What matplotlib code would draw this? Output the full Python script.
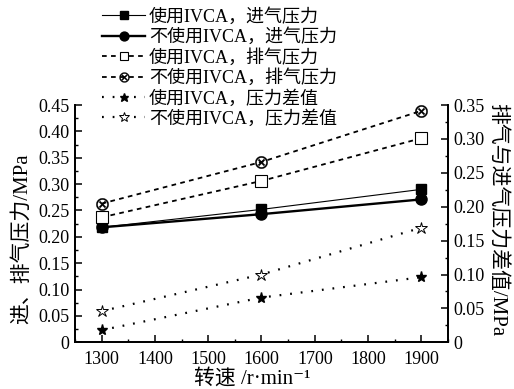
import matplotlib
matplotlib.use("Agg")
import matplotlib.pyplot as plt

speed = [1300, 1600, 1900]
ivca_intake = [0.218, 0.252, 0.290]
noivca_intake = [0.218, 0.243, 0.271]
ivca_exhaust = [0.237, 0.306, 0.387]
noivca_exhaust = [0.263, 0.342, 0.439]
ivca_diff = [0.018, 0.066, 0.096]
noivca_diff = [0.046, 0.100, 0.169]

labels = ["使用IVCA，进气压力", "不使用IVCA，进气压力", "使用IVCA，排气压力",
          "不使用IVCA，排气压力", "使用IVCA，压力差值", "不使用IVCA，压力差值"]
x_ticks = [1300, 1400, 1500, 1600, 1700, 1800, 1900]
left_ticks = [0, 0.05, 0.10, 0.15, 0.20, 0.25, 0.30, 0.35, 0.40, 0.45]
right_ticks = [0, 0.05, 0.10, 0.15, 0.20, 0.25, 0.30, 0.35]

FAM = ["Liberation Serif", "Noto Sans CJK SC", "DejaVu Serif"]
plt.rcParams["font.family"] = FAM
plt.rcParams["font.size"] = 13

fig = plt.figure(figsize=(5.14, 3.89), dpi=100)
ax = fig.add_axes([75/514, 1-342.3/389, 373/514, (342.3-105)/389])
ax2 = ax.twinx()

dash = (0, (2.6, 2.4))
dot = (0, (0.8, 4.0))
h1, = ax.plot(speed, ivca_intake, '-', color='black', lw=0.8, marker='s', ms=7, label=labels[0])
h2, = ax.plot(speed, noivca_intake, '-', color='black', lw=1.7, marker='o', ms=8, label=labels[1])
h3, = ax.plot(speed, ivca_exhaust, linestyle=dash, color='black', lw=1.3, marker='s', ms=8,
              mfc='white', mew=0.8, label=labels[2])
h4, = ax.plot(speed, noivca_exhaust, linestyle=dash, color='black', lw=1.3, marker=r'$\otimes$',
              ms=9, mew=0.2, label=labels[3])
h5, = ax2.plot(speed, ivca_diff, linestyle=dot, color='black', lw=1.6, marker='*', ms=8, label=labels[4])
h6, = ax2.plot(speed, noivca_diff, linestyle=dot, color='black', lw=1.6, marker='*', ms=9,
               mfc='white', mew=0.7, label=labels[5])

ax.set_xlim(1250, 1950)
ax.set_ylim(0, 0.45)
ax2.set_ylim(0, 0.35)
ax.set_xticks(x_ticks)
ax.set_xticks(range(1250, 1951, 50), minor=True)
ax.set_yticks(left_ticks)
ax.set_yticklabels(["0"] + [f"{v:.2f}" for v in left_ticks[1:]])
ax.set_yticks([i * 0.025 for i in range(19)], minor=True)
ax2.set_yticks(right_ticks)
ax2.set_yticklabels(["0"] + [f"{v:.2f}" for v in right_ticks[1:]])
ax2.set_yticks([i * 0.025 for i in range(15)], minor=True)

for a in (ax, ax2):
    a.spines['top'].set_visible(False)
    for s in a.spines.values():
        s.set_linewidth(1.3)
ax.tick_params(axis='both', which='major', direction='in', length=5, width=1.1, labelsize=13, pad=4)
ax.tick_params(axis='both', which='minor', direction='in', length=2.5, width=1.0)
ax2.tick_params(axis='y', which='major', direction='in', length=5, width=1.1, labelsize=13, pad=4)
ax2.tick_params(axis='y', which='minor', direction='in', length=2.5, width=1.0)
ax.tick_params(axis='x', pad=6)

ax.set_xlabel("转速 /r·min⁻¹", fontsize=15, va='top', fontweight='light')
ax.xaxis.set_label_coords(0.475, -0.112)
ax.set_ylabel("进、排气压力/MPa", fontsize=15, va='center', fontweight='light')
ax.yaxis.set_label_coords(-0.143, 0.437)
ax2.set_ylabel("排气与进气压力差值/MPa", fontsize=15, rotation=270, va='center', fontweight='light')
ax2.yaxis.set_label_coords(1.131, 0.515)

fig.legend(handles=[h1, h2, h3, h4, h5, h6], loc='upper left',
           bbox_to_anchor=(102/514, 1 - 8/389), frameon=False,
           prop={'size': 13, 'weight': 'light', 'family': FAM},
           handlelength=2.4, handletextpad=0.2, labelspacing=0.15, borderpad=0,
           borderaxespad=0, markerscale=0.8)

fig.savefig("out.png", dpi=100)
